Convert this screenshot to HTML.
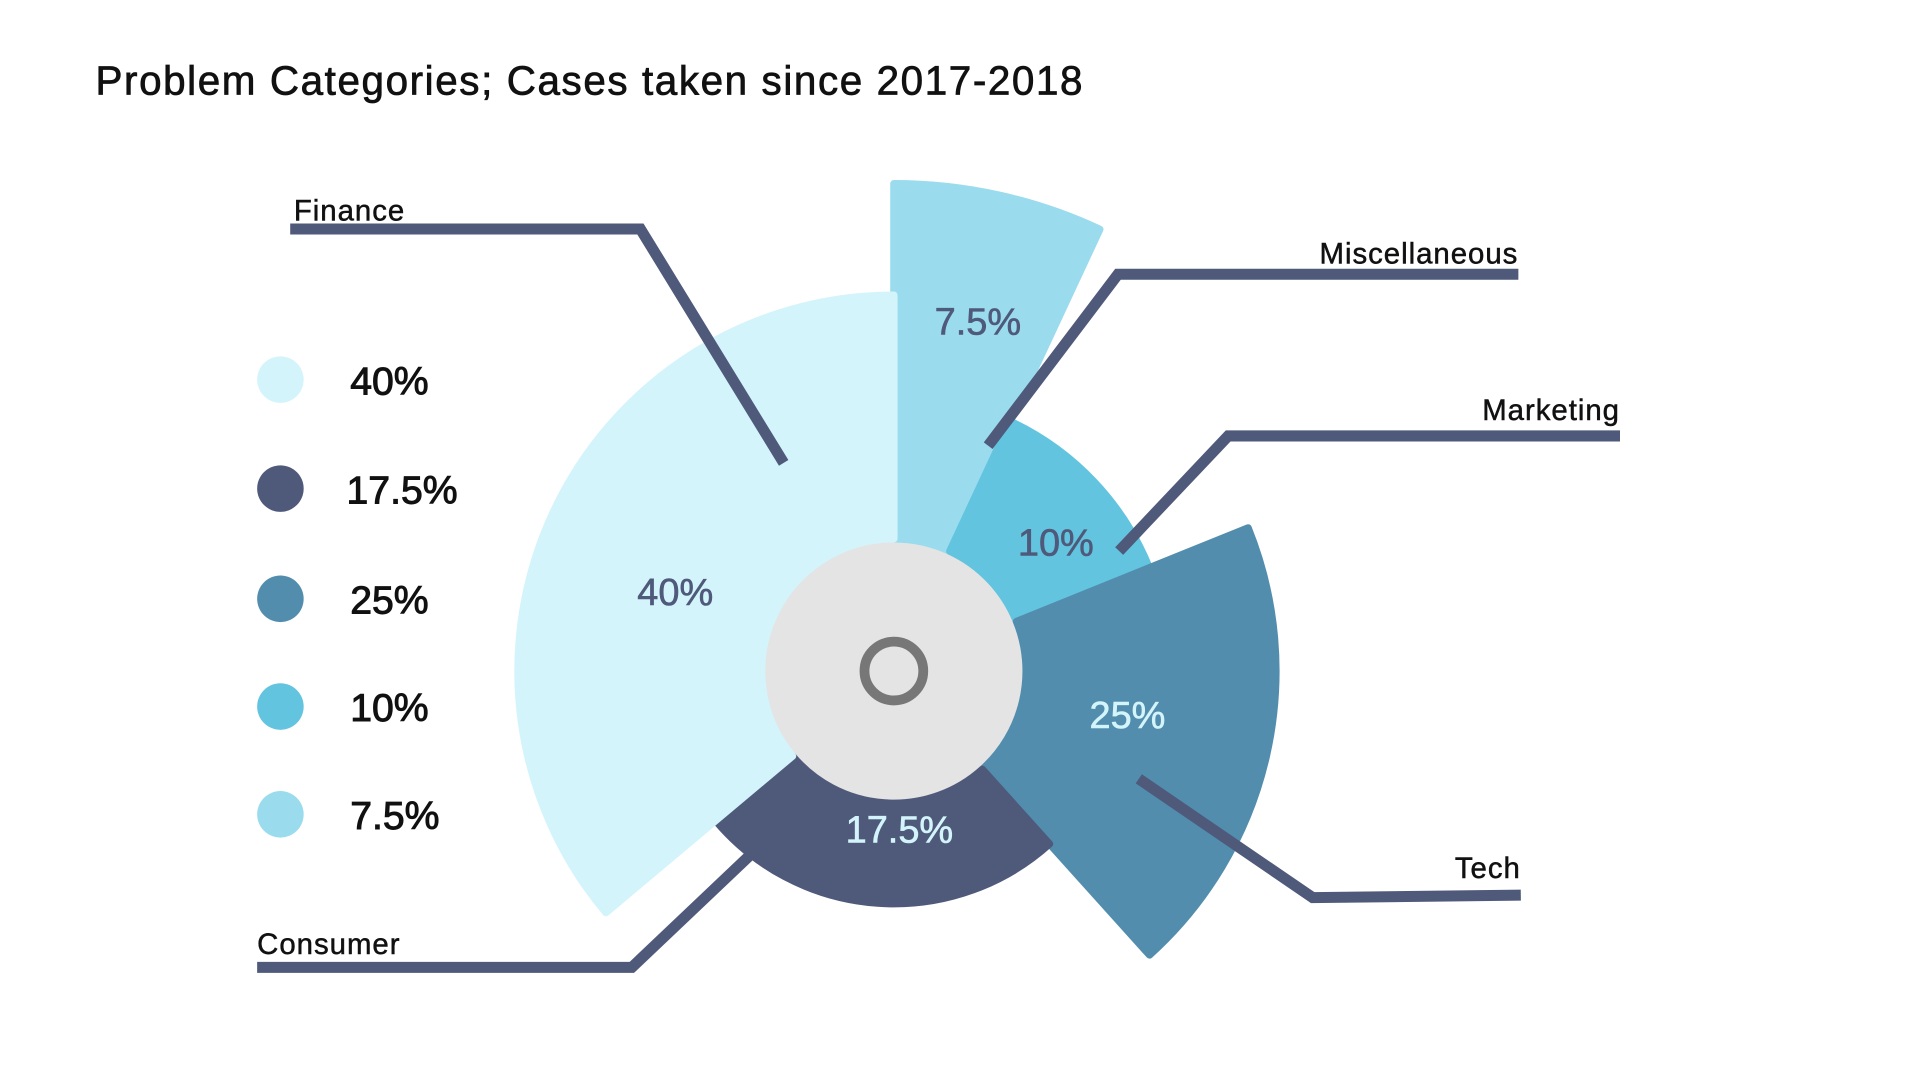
<!DOCTYPE html>
<html><head><meta charset="utf-8">
<style>
html,body{margin:0;padding:0;background:#fff;width:1920px;height:1082px;overflow:hidden}
svg{display:block}
text{font-family:"Liberation Sans","DejaVu Sans",sans-serif}
</style></head>
<body>
<svg id="chart" width="1920" height="1082" viewBox="0 0 1568 883.6" preserveAspectRatio="none" xmlns="http://www.w3.org/2000/svg">
<text x="78" y="77" font-size="33" fill="#111" stroke="#111" stroke-width="0.6" letter-spacing="1.3">Problem Categories; Cases taken since 2017-2018</text>
<g id="slices"></g>
<g id="labels"></g>
<g id="legend"></g>
</svg>
<script>
const categories = ["Miscellaneous","Marketing","Tech","Consumer","Finance"];
const values = [7.5, 10, 25, 17.5, 40];
const valueLabels = ["7.5%","10%","25%","17.5%","40%"];
const outerRadius = [398, 225, 312, 190, 307];
const sweepDeg = [25, 43, 70, 92, 130];
const labelRadius = [294, 169, 194, 129, 190];
const labelAngleOffsetDeg = [1, 5, -2.5, -6, -5];
const legendOrder = [4,3,2,1,0];
const colors = ["#9adcee","#63c4e0","#528dae","#4f5a7b","#d4f4fb"];
const labelColors = ["#4f5a7b","#4f5a7b","#d4f4fb","#d4f4fb","#4f5a7b"];
const cx = 730, cy = 548, inner = 108;
const NS = "http://www.w3.org/2000/svg";
function pt(a,r){ return [cx + r*Math.sin(a), cy - r*Math.cos(a)]; }
const gS = document.getElementById('slices');
const gL = document.getElementById('labels');
const gG = document.getElementById('legend');
const disk = document.createElementNS(NS,'circle');
disk.setAttribute('cx',cx);disk.setAttribute('cy',cy);disk.setAttribute('r',inner);disk.setAttribute('fill','#e4e4e4');


gS.appendChild(disk);
let start = 0;
values.forEach((v,i)=>{
  const span = sweepDeg[i]*Math.PI/180;
  const a0 = start, a1 = start + span; start = a1;
  const R = outerRadius[i];
  const p0 = pt(a0,inner), p1 = pt(a0,R), p2 = pt(a1,R), p3 = pt(a1,inner);
  const large = (a1-a0) > Math.PI ? 1 : 0;
  const d = `M${p0[0]},${p0[1]} L${p1[0]},${p1[1]} A${R},${R} 0 ${large} 1 ${p2[0]},${p2[1]} L${p3[0]},${p3[1]} A${inner},${inner} 0 ${large} 0 ${p0[0]},${p0[1]} Z`;
  const path = document.createElementNS(NS,'path');
  path.setAttribute('d',d); path.setAttribute('fill',colors[i]);
  path.setAttribute('stroke',colors[i]); path.setAttribute('stroke-width','6');
  path.setAttribute('stroke-linejoin','round');
  
  
  gS.appendChild(path);
  const am = (a0+a1)/2 + labelAngleOffsetDeg[i]*Math.PI/180;
  const lp = pt(am, labelRadius[i]);
  const t = document.createElementNS(NS,'text');
  t.setAttribute('x',lp[0]); t.setAttribute('y',lp[1]+11);
  t.setAttribute('text-anchor','middle'); t.setAttribute('font-size','31');
  t.setAttribute('fill',labelColors[i]); t.setAttribute('stroke',labelColors[i]); t.setAttribute('stroke-width','0.5');
  t.textContent = valueLabels[i];
  
  
  gS.appendChild(t);
});
const ring = document.createElementNS(NS,'circle');
ring.setAttribute('cx',cx);ring.setAttribute('cy',cy);ring.setAttribute('r',24);ring.setAttribute('fill','none');
ring.setAttribute('stroke','#777');ring.setAttribute('stroke-width','8');


gS.appendChild(ring);
const leaders = [
  {pts:[[807,364],[913,224],[1240,224]], lx:1240, ly:215, anchor:'end'},
  {pts:[[914,450],[1003,356],[1323,356]], lx:1323, ly:343, anchor:'end'},
  {pts:[[930,636],[1072,733],[1242,731]], lx:1242, ly:717, anchor:'end'},
  {pts:[[614,697],[516,790],[210,790]], lx:210, ly:779, anchor:'start'},
  {pts:[[640,378],[523,187],[237,187]], lx:240, ly:180, anchor:'start'}
];
leaders.forEach((L,i)=>{
  const pl = document.createElementNS(NS,'polyline');
  pl.setAttribute('points', L.pts.map(p=>p.join(',')).join(' '));
  pl.setAttribute('fill','none'); pl.setAttribute('stroke','#4f5a7b'); pl.setAttribute('stroke-width','9');
  
  
  gL.appendChild(pl);
  const t = document.createElementNS(NS,'text');
  t.setAttribute('x',L.lx); t.setAttribute('y',L.ly); t.setAttribute('text-anchor',L.anchor);
  t.setAttribute('font-size','24'); t.setAttribute('fill','#111'); t.setAttribute('stroke','#111'); t.setAttribute('stroke-width','0.4'); t.setAttribute('letter-spacing','0.8');
  t.textContent = categories[i];
  
  
  gL.appendChild(t);
});
const legY = [310,399,489,577,665];
legendOrder.forEach((ci,k)=>{
  const c = document.createElementNS(NS,'circle');
  c.setAttribute('cx',229); c.setAttribute('cy',legY[k]); c.setAttribute('r',19); c.setAttribute('fill',colors[ci]);
  
  
  gG.appendChild(c);
  const t = document.createElementNS(NS,'text');
  t.setAttribute('x', valueLabels[ci].length>4 ? 283 : 286); t.setAttribute('y',legY[k]+12);
  t.setAttribute('font-size','32'); t.setAttribute('fill','#111'); t.setAttribute('stroke','#111'); t.setAttribute('stroke-width','0.8');
  t.textContent = valueLabels[ci];
  
  
  gG.appendChild(t);
});
</script>
</body></html>
